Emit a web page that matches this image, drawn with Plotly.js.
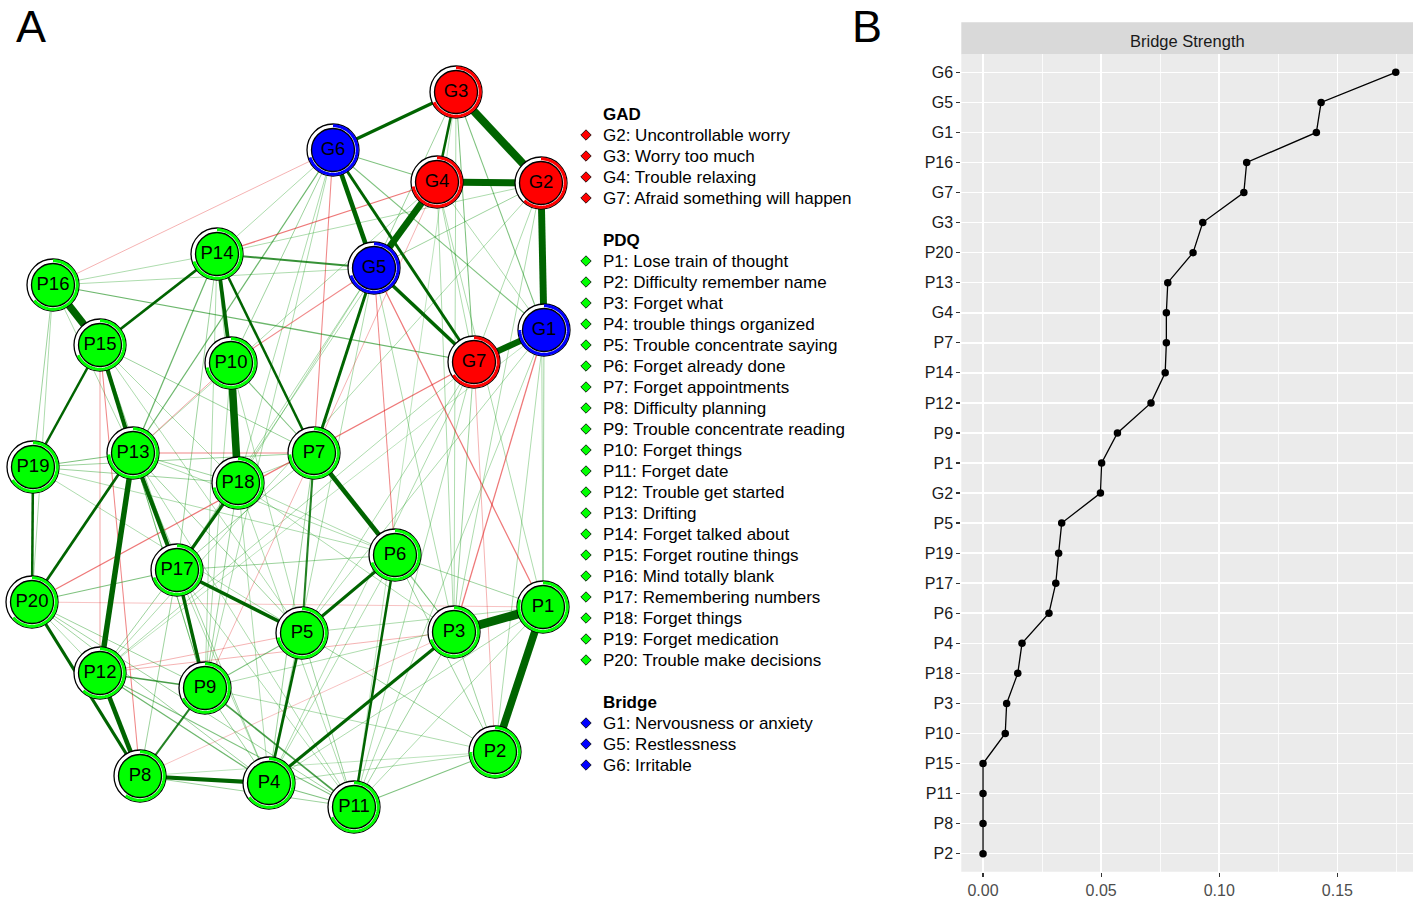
<!DOCTYPE html>
<html><head><meta charset="utf-8">
<script src="https://cdn.plot.ly/plotly-3.0.1.min.js"></script>
<style>html,body{margin:0;padding:0;background:#fff}#chart{width:1417px;height:902px}</style>
</head><body><div id="chart"></div>
<script>
// ---------- Panel A: network ----------
const nodeNames = ['G1','G2','G3','G4','G5','G6','G7','P1','P2','P3','P4','P5','P6','P7','P8','P9','P10','P11','P12','P13','P14','P15','P16','P17','P18','P19','P20'];
const nodeX = [544,541,456,437,374,333,474, 543,495,454,269,302,395,314,140,205,231,354,100,133,217,100,53,177,238,33,32];
const nodeY = [330,183,92,182,268,150,362, 607,752,632,783,633,555,453,776,688,363,807,673,453,254,345,285,570,483,467,602];
const nodeGroup = ['Bridge','GAD','GAD','GAD','Bridge','Bridge','GAD','PDQ','PDQ','PDQ','PDQ','PDQ','PDQ','PDQ','PDQ','PDQ','PDQ','PDQ','PDQ','PDQ','PDQ','PDQ','PDQ','PDQ','PDQ','PDQ','PDQ'];
const nodePie = [0.75,0.62,0.68,0.72,0.70,0.70,0.66, 0.80,0.75,0.70,0.65,0.72,0.70,0.74,0.60,0.68,0.72,0.68,0.62,0.74,0.70,0.68,0.64,0.70,0.72,0.66,0.64];
const groupColor = {GAD:'#FF0000', PDQ:'#00FF00', Bridge:'#0000FF'};

const edgeList = [
 ['G3','G2',0.38],['G4','G2',0.33],['G2','G1',0.33],['G4','G5',0.32],['G1','G7',0.30],
 ['G6','G5',0.22],['G5','G7',0.17],['G6','G3',0.15],['G6','G7',0.14],['G3','G4',0.12],
 ['G6','G1',0.05],['G3','G1',0.05],['G3','G7',0.05],['G3','G5',0.04],['G2','G5',0.04],['G6','G4',0.05],['G4','G7',0.03],['G2','G7',0.03],['G4','G1',0.03],
 ['G5','P14',0.09],['G5','P7',0.14],['G6','P13',0.06],['P16','G7',0.06],['G1','P1',0.04],
 ['G1','P11',0.03],['G1','P2',0.03],['G1','P5',0.03],['G1','P12',0.02],
 ['G7','P3',0.04],['G7','P11',0.03],['G7','P12',0.03],['G7','P5',0.03],['G7','P4',0.03],
 ['G5','P3',0.03],['G5','P4',0.03],['G5','P17',0.03],['G5','P18',0.03],['P16','G5',0.03],
 ['G6','P14',0.03],['G6','P10',0.04],['G6','P18',0.03],['G6','P9',0.03],
 ['G4','P3',0.03],['G4','P1',0.03],['G4','P17',0.03],['G4','P13',0.03],
 ['G2','P1',0.03],['G2','P3',0.03],['G2','P12',0.03],['P14','G2',0.03],
 ['G3','P3',0.03],['G3','P11',0.02],
 ['G1','P3',-0.06],['G5','P1',-0.06],['G4','P14',-0.06],['G5','P10',-0.05],['P10','P13',-0.04],
 ['P20','G7',-0.06],['G6','P7',-0.05],['G5','P6',-0.05],['G7','P2',-0.03],['P15','P8',-0.05],
 ['P15','P12',-0.04],['P13','P7',-0.05],['P12','P3',-0.03],['P20','P1',-0.02],['P9','P7',-0.03],
 ['G6','P16',-0.03],['G4','P7',-0.03],['P12','P5',-0.03],['P8','P3',-0.02],
 ['P16','P15',0.36],['P14','P15',0.13],['P14','P10',0.18],['P14','P7',0.12],['P10','P18',0.36],
 ['P15','P13',0.20],['P15','P19',0.12],['P19','P20',0.12],['P13','P12',0.26],['P13','P17',0.20],
 ['P13','P20',0.13],['P18','P17',0.15],['P7','P6',0.22],['P17','P5',0.17],['P17','P9',0.16],
 ['P6','P5',0.14],['P20','P8',0.15],['P12','P8',0.22],['P8','P4',0.20],['P4','P3',0.15],
 ['P4','P5',0.13],['P3','P1',0.42],['P1','P2',0.36],['P6','P11',0.12],['P9','P8',0.10],
 ['P7','P5',0.10],['P12','P9',0.08],['P9','P11',0.08],['P13','P19',0.05],
 ['P11','P2',0.05],['P4','P11',0.05],['P8','P11',0.04],['P12','P4',0.06],['P12','P11',0.05],
 ['P20','P17',0.05],['P20','P9',0.04],['P20','P4',0.04],['P20','P11',0.04],['P20','P12',0.03],
 ['P19','P18',0.04],['P19','P7',0.04],['P19','P5',0.03],['P19','P6',0.03],
 ['P16','P14',0.03],['P16','P13',0.03],['P16','P20',0.03],['P16','P19',0.04],
 ['P15','P17',0.04],['P15','P18',0.03],['P15','P7',0.04],['P15','P9',0.03],['P15','P5',0.03],
 ['P14','P13',0.06],['P14','P17',0.04],['P14','P18',0.03],['P14','P9',0.03],
 ['P10','P7',0.05],['P10','P5',0.03],['P10','P9',0.03],
 ['P7','P3',0.04],['P7','P4',0.04],['P7','P17',0.04],['P7','P18',0.03],
 ['P13','P18',0.04],['P13','P9',0.04],['P13','P5',0.04],['P13','P4',0.04],['P13','P11',0.03],['P13','P6',0.03],
 ['P18','P6',0.03],['P18','P9',0.04],['P18','P3',0.03],['P18','P11',0.03],['P18','P4',0.03],
 ['P6','P1',0.04],['P6','P3',0.04],['P6','P2',0.04],['P6','P4',0.03],
 ['P17','P12',0.04],['P17','P8',0.04],['P17','P6',0.04],['P17','P4',0.03],['P17','P11',0.03],
 ['P5','P9',0.05],['P5','P11',0.04],['P5','P2',0.04],['P5','P1',0.03],
 ['P3','P11',0.04],['P3','P2',0.04],
 ['P9','P4',0.04],['P9','P2',0.03],['P4','P2',0.03],
 ['P1','P11',0.03],['P1','P4',0.03],['P1','P9',0.03],['P8','P2',0.02]
];

// Legend of panel A
const gadLabels = ['G2: Uncontrollable worry','G3: Worry too much','G4: Trouble relaxing','G7: Afraid something will happen'];
const pdqLabels = ['P1: Lose train of thought','P2: Difficulty remember name','P3: Forget what','P4: trouble things organized','P5: Trouble concentrate saying','P6: Forget already done','P7: Forget appointments','P8: Difficulty planning','P9: Trouble concentrate reading','P10: Forget things','P11: Forget date','P12: Trouble get started','P13: Drifting','P14: Forget talked about','P15: Forget routine things','P16: Mind totally blank','P17: Remembering numbers','P18: Forget things','P19: Forget medication','P20: Trouble make decisions'];
const bridgeLabels = ['G1: Nervousness or anxiety','G5: Restlessness','G6: Irritable'];

// ---------- Panel B: bridge strength ----------
const bridgeNodes = ['G6','G5','G1','P16','G7','G3','P20','P13','G4','P7','P14','P12','P9','P1','G2','P5','P19','P17','P6','P4','P18','P3','P10','P15','P11','P8','P2'];
const bridgeValues = [0.1747,0.1431,0.1411,0.1116,0.1104,0.0930,0.0889,0.0782,0.0776,0.0776,0.0771,0.0711,0.0569,0.0502,0.0497,0.0333,0.0320,0.0308,0.0279,0.0165,0.0147,0.0100,0.0094,0,0,0,0];

const FONT = 'Liberation Sans, Arial, Helvetica, sans-serif';
const W = 1417, H = 902;
const traces = [];
const shapes = [];
const annotations = [];

// edges, weakest first
const idx = {}; nodeNames.forEach((n,i)=>idx[n]=i);
const sorted = edgeList.slice().sort((a,b)=>Math.abs(a[2])-Math.abs(b[2]));
sorted.forEach(e=>{
  const a = idx[e[0]], b = idx[e[1]], w = e[2], aw = Math.abs(w);
  const alpha = Math.min(1, 0.15 + aw/0.12*0.85);
  const g = Math.round(100 + (1-alpha)*70);
  const col = w>0 ? `rgba(0,${g},0,${alpha.toFixed(3)})` : `rgba(225,20,20,${alpha.toFixed(3)})`;
  traces.push({type:'scatter', mode:'lines', x:[nodeX[a],nodeX[b]], y:[nodeY[a],nodeY[b]],
    xaxis:'x', yaxis:'y', line:{color:col, width:Math.max(0.9, aw*21)}, hoverinfo:'skip', showlegend:false});
});

// nodes: outer ring, inner disk
traces.push({type:'scatter', mode:'markers', x:nodeX, y:nodeY, xaxis:'x', yaxis:'y',
  marker:{size:52, color:'#ffffff', line:{color:'#000', width:1.3}}, hoverinfo:'skip', showlegend:false});
traces.push({type:'scatter', mode:'markers+text', x:nodeX, y:nodeY, xaxis:'x', yaxis:'y',
  text:nodeNames, textposition:'middle center', textfont:{family:FONT, size:18.5, color:'#000'},
  marker:{size:43, color:nodeGroup.map(g=>groupColor[g]), line:{color:'#000', width:1.3}}, hoverinfo:'skip', showlegend:false});

// pie arcs in the ring
nodeNames.forEach((n,i)=>{
  const r = 24.2, steps = 60, p = nodePie[i];
  let d = '';
  for (let k=0;k<=steps;k++){
    const t = 2*Math.PI*p*k/steps;
    const px = nodeX[i] + r*Math.sin(t), py = nodeY[i] - r*Math.cos(t);
    d += (k===0?'M':'L') + px.toFixed(2) + ',' + py.toFixed(2);
  }
  shapes.push({type:'path', path:d, xref:'x', yref:'y', layer:'above', line:{color:groupColor[nodeGroup[i]], width:3}});
});

// legend
const legendRows = [];
legendRows.push({text:'<b>GAD</b>'});
gadLabels.forEach(t=>legendRows.push({text:t, color:groupColor.GAD}));
legendRows.push(null);
legendRows.push({text:'<b>PDQ</b>'});
pdqLabels.forEach(t=>legendRows.push({text:t, color:groupColor.PDQ}));
legendRows.push(null);
legendRows.push({text:'<b>Bridge</b>'});
bridgeLabels.forEach(t=>legendRows.push({text:t, color:groupColor.Bridge}));
const legY0 = 114, legStep = 21, legTextX = 601, legMarkX = 586;
const lmX=[], lmY=[], lmC=[];
legendRows.forEach((row,i)=>{
  if(!row) return;
  const y = legY0 + i*legStep;
  annotations.push({x:legTextX, y:y, xref:'x', yref:'y', text:row.text, showarrow:false, xanchor:'left', yanchor:'middle',
    font:{family:FONT, size:17, color:'#000'}});
  if(row.color){ lmX.push(legMarkX); lmY.push(y); lmC.push(row.color); }
});
traces.push({type:'scatter', mode:'markers', x:lmX, y:lmY, xaxis:'x', yaxis:'y',
  marker:{symbol:'diamond', size:8, color:lmC, line:{color:'#000', width:0.8}}, hoverinfo:'skip', showlegend:false});

// panel B trace
traces.push({type:'scatter', mode:'lines+markers', x:bridgeValues, y:bridgeNodes, xaxis:'x2', yaxis:'y2',
  line:{color:'#000', width:1.3}, marker:{size:7.5, color:'#000'}, hoverinfo:'skip', showlegend:false});

// panel B geometry (pixels)
const bL = 961.3, bR = 1413, bT = 54.3, bB = 871.7, sT = 22.3;
shapes.push({type:'rect', xref:'x2 domain', yref:'y2 domain', x0:0, x1:1, y0:0, y1:1, fillcolor:'#ebebeb', line:{width:0}, layer:'below'});
shapes.push({type:'rect', xref:'paper', yref:'paper', x0:bL/W, x1:bR/W, y0:1-bT/H, y1:1-sT/H, fillcolor:'#d9d9d9', line:{width:0}, layer:'below'});
annotations.push({x:(bL+bR)/2, y:(sT+bT)/2+3, xref:'x', yref:'y', text:'Bridge Strength', showarrow:false,
  font:{family:FONT, size:16.5, color:'#1a1a1a'}, xanchor:'center', yanchor:'middle'});

// panel letters
annotations.push({x:31/W, y:1, xref:'paper', yref:'paper', text:'A', showarrow:false, font:{family:FONT, size:45, color:'#000'}, xanchor:'center', yanchor:'top', borderpad:0});
annotations.push({x:867/W, y:1, xref:'paper', yref:'paper', text:'B', showarrow:false, font:{family:FONT, size:45, color:'#000'}, xanchor:'center', yanchor:'top', borderpad:0});

const layout = {
  width:W, height:H, margin:{l:0,r:0,t:0,b:0}, paper_bgcolor:'#fff', plot_bgcolor:'rgba(0,0,0,0)',
  showlegend:false, hovermode:false,
  xaxis:{domain:[0,1], range:[0,W], visible:false, fixedrange:true, anchor:'y'},
  yaxis:{domain:[0,1], range:[H,0], visible:false, fixedrange:true, anchor:'x'},
  xaxis2:{domain:[bL/W, bR/W], range:[-0.0092, 0.182], anchor:'y2', tickmode:'linear', tick0:0, dtick:0.05, tickformat:'.2f',
    ticks:'outside', ticklen:4, tickwidth:1.2, tickcolor:'#333', showgrid:true, gridcolor:'#ffffff', gridwidth:1.6,
    minor:{dtick:0.025, tick0:0, showgrid:true, gridcolor:'#ffffff', gridwidth:0.8, ticks:''},
    zeroline:false, showline:false, tickfont:{family:FONT, size:16, color:'#4d4d4d'}, fixedrange:true},
  yaxis2:{domain:[1-bB/H, 1-bT/H], type:'category', categoryorder:'array', categoryarray:bridgeNodes.slice().reverse(),
    range:[-0.6, bridgeNodes.length-0.4], anchor:'x2', ticks:'outside', ticklen:4, tickwidth:1.2, tickcolor:'#333',
    showgrid:true, gridcolor:'#ffffff', gridwidth:1.6, zeroline:false, showline:false,
    tickfont:{family:FONT, size:16, color:'#1a1a1a'}, fixedrange:true},
  shapes:shapes, annotations:annotations
};
Plotly.newPlot('chart', traces, layout, {staticPlot:true, displayModeBar:false});
</script></body></html>
